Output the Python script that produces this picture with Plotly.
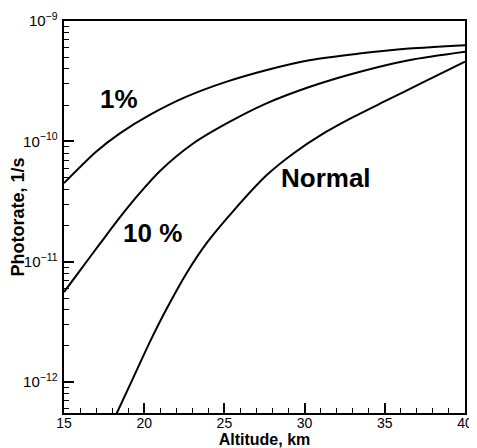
import math
import plotly.graph_objects as go

# Altitude (km) and photorate (1/s) for each case
alt_1pct = [15.0, 17.0, 18.46, 20.32, 22.6, 25.1, 27.59, 30.29, 33.4, 36.5, 40.0]
rate_1pct = [4.5e-11, 8.2e-11, 1.16e-10, 1.65e-10, 2.34e-10, 3.12e-10, 3.9e-10,
             4.72e-10, 5.36e-10, 5.9e-10, 6.3e-10]

alt_10pct = [15.0, 15.97, 17.22, 18.47, 19.72, 20.97, 23.05, 25.14, 27.59, 30.29,
             33.4, 36.5, 40.0]
rate_10pct = [5.61e-12, 8.38e-12, 1.40e-11, 2.33e-11, 3.72e-11, 5.66e-11, 9.6e-11,
              1.41e-10, 2.06e-10, 2.83e-10, 3.77e-10, 4.72e-10, 5.55e-10]

alt_normal = [18.26, 19.3, 20.34, 21.39, 22.64, 23.89, 25.55, 27.64, 29.3,
              31.18, 33.05, 35.14, 37.22, 40.0]
rate_normal = [5.42e-13, 1.076e-12, 2.14e-12, 4.05e-12, 8.05e-12, 1.43e-11, 2.64e-11,
               5.25e-11, 7.94e-11, 1.164e-10, 1.596e-10, 2.198e-10, 3.02e-10, 4.59e-10]

curve_labels = ["1%", "10 %", "Normal"]
label_alt = [18.4, 20.5, 31.35]
label_rate = [2.26e-10, 1.73e-11, 4.95e-11]

x_range = [15, 40]
y_range = [5.55e-13, 1e-9]

FONT = "Arial, Liberation Sans, sans-serif"

fig = go.Figure()
for xs, ys in [(alt_1pct, rate_1pct), (alt_10pct, rate_10pct), (alt_normal, rate_normal)]:
    fig.add_trace(go.Scatter(x=xs, y=ys, mode="lines",
                             line=dict(color="black", width=2, shape="spline", smoothing=0.8),
                             showlegend=False, hoverinfo="skip"))

for t, xa, ya in zip(curve_labels, label_alt, label_rate):
    fig.add_annotation(x=xa, y=math.log10(ya), text="<b>%s</b>" % t, showarrow=False,
                       font=dict(family=FONT, size=26, color="black"))

fig.update_layout(
    width=469, height=440,
    margin=dict(l=56, r=12, t=13, b=35, pad=0),
    plot_bgcolor="white", paper_bgcolor="white",
    font=dict(family=FONT, color="black"),
)
fig.update_xaxes(
    range=x_range, dtick=5, tick0=15,
    showgrid=False, zeroline=False,
    showline=True, linecolor="black", linewidth=2, mirror=True,
    ticks="inside", ticklen=10, tickwidth=1.5, tickcolor="black",
    minor=dict(ticks="inside", ticklen=5, dtick=1, tickcolor="black", tickwidth=1.2, showgrid=False),
    tickfont=dict(size=14, family=FONT),
    ticklabelstandoff=-4,
    title=dict(text="<b>Altitude, km</b>", font=dict(size=16, family=FONT), standoff=2),
    automargin=False,
)
fig.update_yaxes(
    type="log", range=[math.log10(y_range[0]), math.log10(y_range[1])], dtick=1,
    exponentformat="power",
    showgrid=False, zeroline=False,
    showline=True, linecolor="black", linewidth=2, mirror=True,
    ticks="inside", ticklen=10, tickwidth=1.5, tickcolor="black",
    minor=dict(ticks="inside", ticklen=5, dtick="D1", tickcolor="black", tickwidth=1.2, showgrid=False),
    tickfont=dict(size=12, family=FONT),
    ticklabelstandoff=2,
    title=dict(text="<b>Photorate, 1/s</b>", font=dict(size=18, family=FONT), standoff=0),
    automargin=False,
)

fig.write_html("out.html")
